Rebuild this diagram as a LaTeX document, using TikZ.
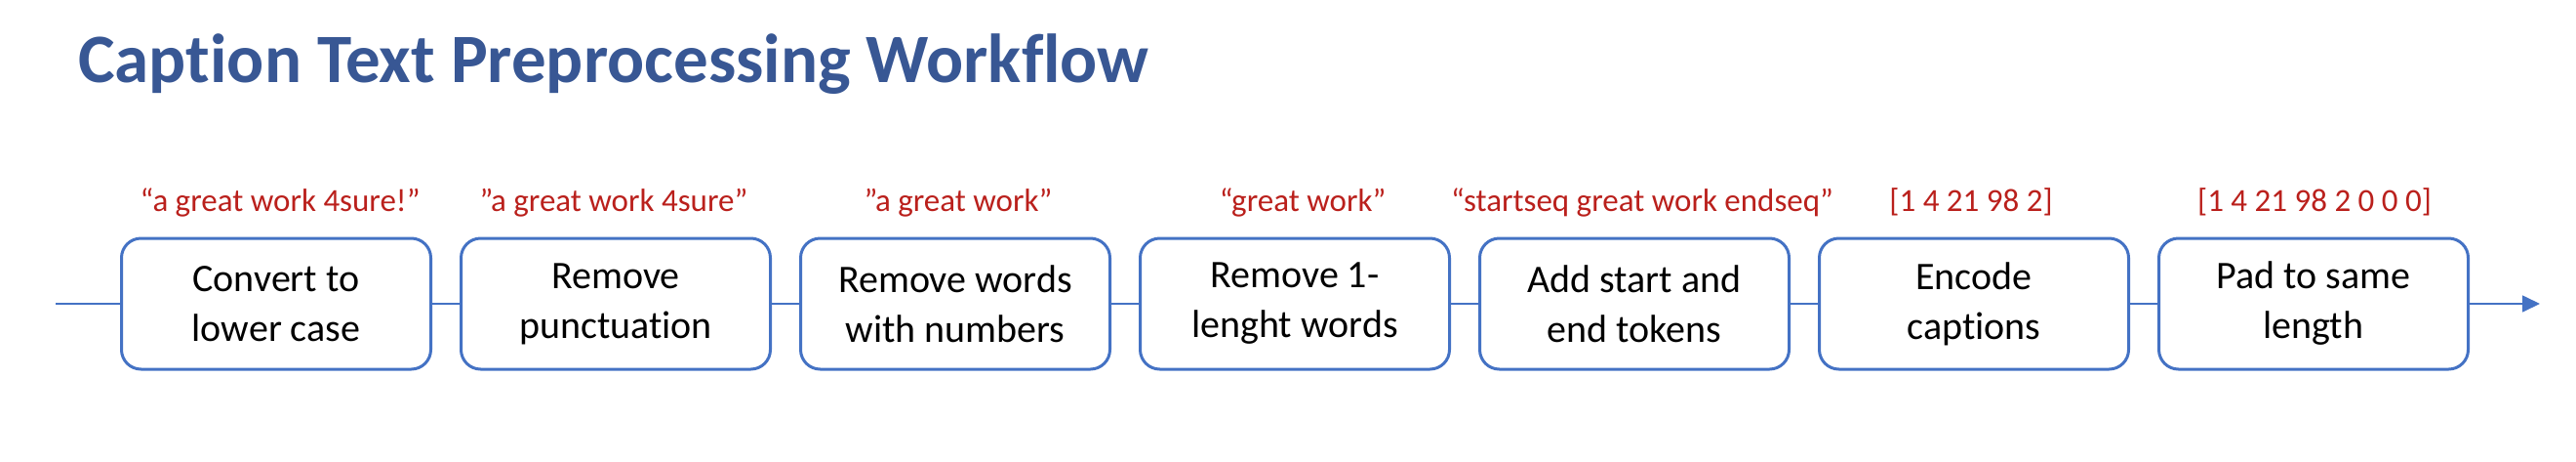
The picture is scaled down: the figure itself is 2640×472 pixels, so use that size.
\documentclass[tikz,border=0pt]{standalone}
\usepackage{fontspec}
\setmainfont{Carlito}[Ligatures={NoCommon}]
\usetikzlibrary{arrows.meta}
\definecolor{titleblue}{RGB}{56,87,148}
\definecolor{boxblue}{RGB}{68,114,196}
\definecolor{labelred}{RGB}{186,32,28}
\tikzset{
  stepbox/.style={draw=boxblue, line width=3pt, rounded corners=20pt, fill=white,
    minimum width=317pt, minimum height=134pt, inner sep=0pt, align=center,
    font=\fontsize{40}{51}\selectfont, text=black},
  steplabel/.style={anchor=base, inner sep=0pt, text=labelred, font=\fontsize{33}{40}\selectfont},
  flow/.style={draw=boxblue, line width=1.6pt}
}
\begin{document}
\begin{tikzpicture}[x=1pt,y=-1pt]
\useasboundingbox (0,0) rectangle (2640,472);
\node[anchor=base west, inner sep=0pt, text=titleblue, font=\fontsize{71}{80}\selectfont\bfseries] (title) at (80,84) {Caption Text Preprocessing Workflow};

\coordinate (start) at (57,311);
\coordinate (end) at (2603,311);

\node[stepbox] (b1) at (283,311) {Convert to\\lower case};
\node[stepbox] (b2) at (631,311) {Remove\\punctuation};
\node[stepbox] (b3) at (979,311) {Remove words\\with numbers};
\node[stepbox] (b4) at (1327,311) {Remove 1-\\lenght words};
\node[stepbox] (b5) at (1675,311) {Add start and\\end tokens};
\node[stepbox] (b6) at (2023,311) {Encode\\captions};
\node[stepbox] (b7) at (2371,311) {Pad to same\\length};

\node[steplabel] (l1) at (287,216) {“a great work 4sure!”};
\node[steplabel] (l2) at (629,216) {”a great work 4sure”};
\node[steplabel] (l3) at (982,216) {”a great work”};
\node[steplabel] (l4) at (1335,216) {“great work”};
\node[steplabel] (l5) at (1683,216) {“startseq great work endseq”};
\node[steplabel] (l6) at (2020,216) {[1 4 21 98 2]};
\node[steplabel] (l7) at (2372,216) {[1 4 21 98 2 0 0 0]};

\draw[flow] (start) -- (b1.west);
\draw[flow] (b1.east) -- (b2.west);
\draw[flow] (b2.east) -- (b3.west);
\draw[flow] (b3.east) -- (b4.west);
\draw[flow] (b4.east) -- (b5.west);
\draw[flow] (b5.east) -- (b6.west);
\draw[flow] (b6.east) -- (b7.west);
\draw[flow, -{Triangle[length=18pt,width=17pt]}] (b7.east) -- (end);
\end{tikzpicture}
\end{document}
